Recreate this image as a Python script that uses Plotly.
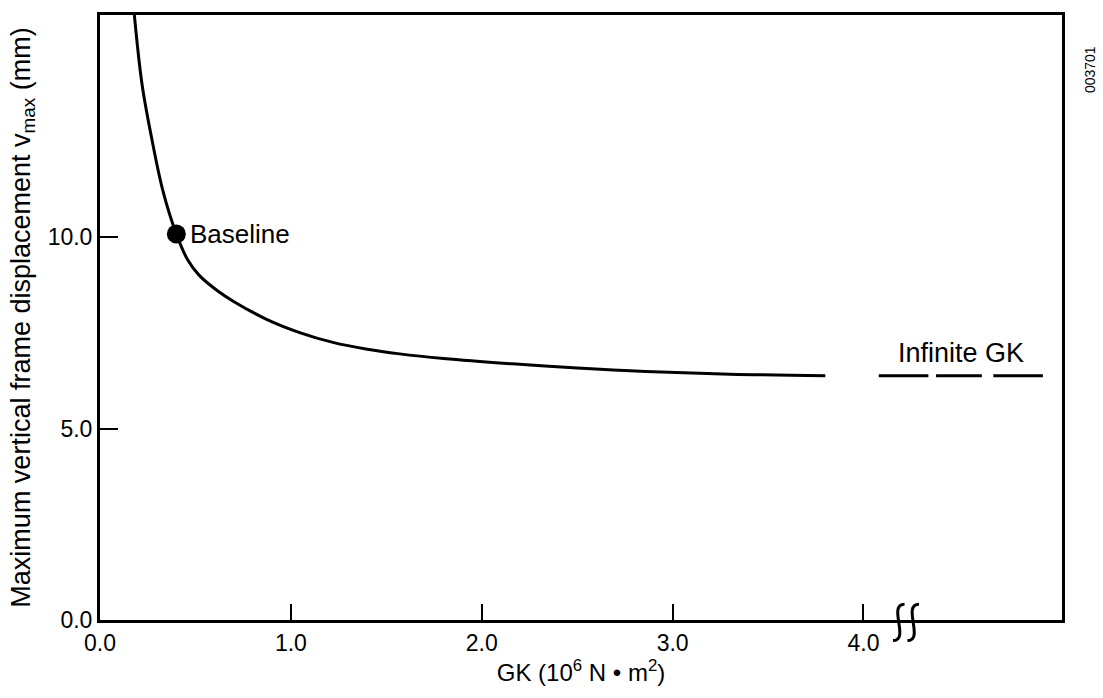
import plotly.graph_objects as go

# --- data ---
gk = [0.18, 0.22, 0.27, 0.33, 0.40, 0.46, 0.52, 0.61, 0.70, 0.87, 1.05, 1.22,
      1.40, 1.57, 1.80, 2.16, 2.50, 2.86, 3.30, 3.80]
vmax = [15.8, 14.0, 12.6, 11.2, 10.08, 9.4, 9.0, 8.62, 8.32, 7.86, 7.5, 7.25,
        7.07, 6.95, 6.83, 6.69, 6.58, 6.49, 6.42, 6.38]
baseline_gk = [0.40]
baseline_v = [10.08]
infinite_v = 6.38
infinite_segments = [(4.08, 4.34), (4.38, 4.62), (4.68, 4.94)]
x_ticks = [0, 1, 2, 3, 4]
x_ticklabels = ["0.0", "1.0", "2.0", "3.0", "4.0"]
y_ticks = [0, 5, 10]
y_ticklabels = ["0.0", "5.0", "10.0"]
x_range = [0, 5.04]
y_range = [0, 15.8]
break_x = 4.2

FONT = "Liberation Sans"
fig = go.Figure()

fig.add_trace(go.Scatter(x=gk, y=vmax, mode="lines",
                         line=dict(color="black", width=3, shape="spline", smoothing=1.0),
                         showlegend=False, hoverinfo="skip"))

# Infinite GK dashed segments
for a, b in infinite_segments:
    fig.add_trace(go.Scatter(x=[a, b], y=[infinite_v, infinite_v], mode="lines",
                             line=dict(color="black", width=3),
                             showlegend=False, hoverinfo="skip"))

fig.add_trace(go.Scatter(x=baseline_gk, y=baseline_v, mode="markers",
                         marker=dict(color="black", size=19),
                         showlegend=False, hoverinfo="skip"))

fig.add_annotation(x=baseline_gk[0], y=baseline_v[0], text="Baseline", showarrow=False,
                   xanchor="left", xshift=12, font=dict(size=26, color="black", family=FONT))
fig.add_annotation(x=(infinite_segments[0][0] + infinite_segments[-1][1]) / 2, y=6.98,
                   text="Infinite GK", showarrow=False,
                   font=dict(size=27, color="black", family=FONT))
fig.add_annotation(xref="paper", yref="paper", x=1.039, y=0.952, text="003701",
                   textangle=-90, showarrow=False,
                   font=dict(size=14, color="black", family=FONT))

# axis break squiggles (paper coords, derived from data position)
px = (break_x - x_range[0]) / (x_range[1] - x_range[0])
w = 0.012
top, bot = 0.026, -0.034
for off in (0.0, 0.015):
    x0 = px - 0.009 + off
    path = (f"M {x0 + w},{top} C {x0 - 0.006},{top} {x0 + w + 0.006},{bot} {x0},{bot}")
    fig.add_shape(type="path", path=path, xref="paper", yref="paper",
                  line=dict(color="black", width=3))

fig.update_layout(
    width=1103, height=698,
    margin=dict(l=100, r=41, t=13, b=78),
    paper_bgcolor="white", plot_bgcolor="white",
    font=dict(family=FONT, color="black", size=24),
    xaxis=dict(range=x_range, tickvals=x_ticks, ticktext=x_ticklabels,
               showline=True, linewidth=3, linecolor="black", mirror=True,
               ticks="inside", ticklen=16, tickwidth=2, tickcolor="black",
               showgrid=False, zeroline=False,
               title=dict(text="GK (10<sup>6</sup> N \u2022 m<sup>2</sup>)",
                          font=dict(size=24, family=FONT), standoff=10),
               tickfont=dict(size=23, family=FONT)),
    yaxis=dict(range=y_range, tickvals=y_ticks, ticktext=y_ticklabels,
               showline=True, linewidth=3, linecolor="black", mirror=True,
               ticks="inside", ticklen=18, tickwidth=2, tickcolor="black",
               showgrid=False, zeroline=False,
               title=dict(text="Maximum vertical frame displacement v<sub>max</sub> (mm)",
                          font=dict(size=27, family=FONT), standoff=10),
               tickfont=dict(size=23, family=FONT)),
)

fig.write_html("out.html")
